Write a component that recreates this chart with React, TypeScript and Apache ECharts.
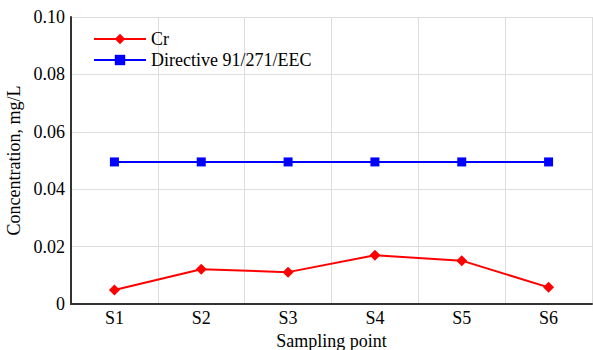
import React, { useEffect, useRef } from "react";
import * as echarts from "echarts";

const categories = ["S1", "S2", "S3", "S4", "S5", "S6"];
const crValues = [0.0049, 0.0121, 0.0111, 0.0170, 0.0151, 0.0058];
const directiveValues = [0.0495, 0.0495, 0.0495, 0.0495, 0.0495, 0.0495];

const FONT = "'Liberation Serif', 'Times New Roman', serif";

export default function App() {
  const ref = useRef<HTMLDivElement>(null);
  useEffect(() => {
    if (!ref.current) return;
    const chart = echarts.init(ref.current, null, { renderer: "svg" });
    chart.setOption({
      animation: false,
      textStyle: { fontFamily: FONT },
      grid: { left: 71, top: 17, right: 1, bottom: 46, containLabel: false, outerBoundsMode: "none" },
      legend: {
        left: 88,
        top: 25,
        orient: "vertical",
        itemWidth: 52,
        itemHeight: 13,
        itemGap: 3,
        textStyle: { fontFamily: FONT, fontSize: 18, color: "#000" },
        data: ["Cr", "Directive 91/271/EEC"],
      },
      xAxis: {
        type: "category",
        data: categories,
        boundaryGap: true,
        name: "Sampling point",
        nameLocation: "middle",
        nameGap: 24,
        nameTextStyle: { fontFamily: FONT, fontSize: 18, color: "#000" },
        axisLine: { lineStyle: { color: "#333", width: 2 } },
        axisTick: { show: false },
        axisLabel: { fontFamily: FONT, fontSize: 18, color: "#000", margin: 5 },
        splitLine: { show: true, lineStyle: { color: "#ddd", width: 1 } },
      },
      yAxis: {
        type: "value",
        min: 0,
        max: 0.1,
        interval: 0.02,
        name: "Concentration, mg/L",
        nameLocation: "middle",
        nameGap: 41,
        nameTextStyle: { fontFamily: FONT, fontSize: 18, color: "#000" },
        axisLine: { show: true, lineStyle: { color: "#333", width: 2 } },
        axisTick: { show: false },
        axisLabel: {
          fontFamily: FONT,
          fontSize: 18,
          color: "#000",
          margin: 6,
          formatter: (v: number) => (v === 0 ? "0" : v.toFixed(2)),
        },
        splitLine: { show: true, lineStyle: { color: "#ddd", width: 1 } },
      },
      series: [
        {
          name: "Cr",
          type: "line",
          data: crValues,
          symbol: "diamond",
          symbolSize: 11,
          itemStyle: { color: "#ff0000" },
          lineStyle: { color: "#ff0000", width: 2 },
        },
        {
          name: "Directive 91/271/EEC",
          type: "line",
          data: directiveValues,
          symbol: "rect",
          symbolSize: 9,
          itemStyle: { color: "#0000ff" },
          lineStyle: { color: "#0000ff", width: 2 },
        },
      ],
    });
    return () => chart.dispose();
  }, []);
  return <div ref={ref} style={{ width: 593, height: 350, position: "absolute", left: 0, top: 0, background: "#fff" }} />;
}
